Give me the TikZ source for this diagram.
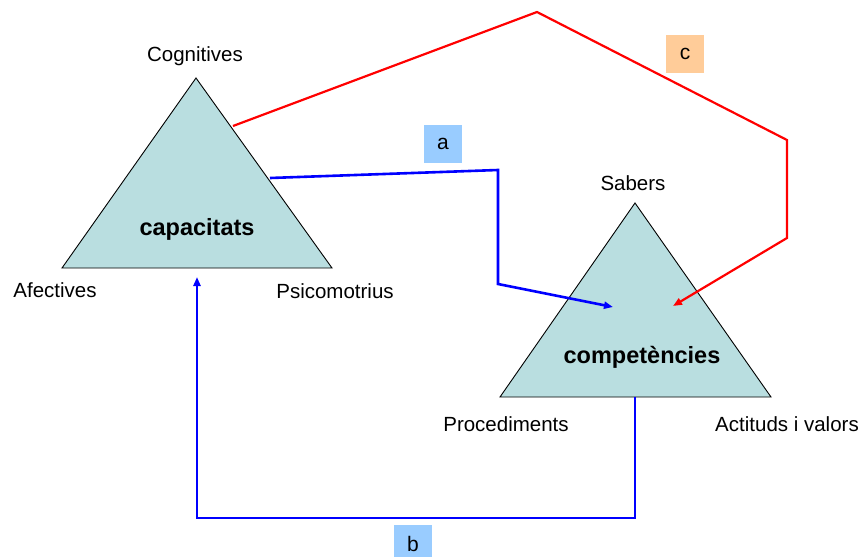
\documentclass[tikz,border=0pt]{standalone}
\usepackage{fontspec}
\setmainfont{Liberation Sans}
\usetikzlibrary{arrows.meta}
\definecolor{trifill}{RGB}{185,222,224}
\definecolor{tagblue}{RGB}{153,204,255}
\definecolor{tagpeach}{RGB}{255,204,153}
\definecolor{linkblue}{RGB}{0,0,255}
\definecolor{linkred}{RGB}{255,0,0}
\tikzset{
  tri/.style={draw=black, line width=0.9pt, fill=trifill, line join=miter},
  lbl/.style={font=\fontsize{20.5}{24}\selectfont, inner sep=0pt},
  title/.style={font=\fontsize{23.5}{28}\selectfont\bfseries, inner sep=0pt},
  tag/.style={minimum width=38pt, minimum height=38pt, inner sep=0pt, font=\fontsize{21}{24}\selectfont},
  bluelink/.style={draw=linkblue, line width=2.6pt, line join=miter},
  redlink/.style={draw=linkred, line width=2.2pt, line join=miter},
  tip/.style={-{Triangle[length=9pt,width=7pt]}}
}
\begin{document}
\begin{tikzpicture}[x=1pt,y=-1pt]
\useasboundingbox (0,0) rectangle (863,557);

% triangle: capacitats
\path[tri] (196,78) -- (332,268) -- (62,268) -- cycle;
\node[title] (cap) at (197,229) {capacitats};
\node[lbl] (cog) at (195,56) {Cognitives};
\node[lbl] (afe) at (55,290) {Afectives};
\node[lbl] (psi) at (335,291) {Psicomotrius};

% triangle: competencies
\path[tri] (635,203) -- (771,397) -- (500,397) -- cycle;
\node[title] (comp) at (642,357) {competències};
\node[lbl] (sab) at (633,183) {Sabers};
\node[lbl] (proc) at (506,424) {Procediments};
\node[lbl] (act) at (787,424) {Actituds i valors};

% link endpoints
\coordinate (capR) at (233,126);
\coordinate (capA) at (270,178);
\coordinate (capB) at (197,277);
\coordinate (compB) at (635,397);
\coordinate (redEnd) at (673,306);
\coordinate (blueEnd) at (613,307);
\coordinate (r1) at (537,12);
\coordinate (r2) at (787,140);
\coordinate (r3) at (787,238);
\coordinate (a1) at (498,170);
\coordinate (a2) at (498,284);
\coordinate (b1) at (635,518);
\coordinate (b2) at (197,518);

% connectors
\draw[redlink, tip] (capR) -- (r1) -- (r2) -- (r3) -- (redEnd);
\draw[bluelink, tip] (capA) -- (a1) -- (a2) -- (blueEnd);
\draw[bluelink, tip] (compB) -- (b1) -- (b2) -- (capB);

% tags
\node[tag, fill=tagblue] (ta) at (443,144) {a};
\node[tag, fill=tagpeach] (tc) at (685,54) {c};
\node[tag, fill=tagblue] (tb) at (413,544) {b};
\end{tikzpicture}
\end{document}
